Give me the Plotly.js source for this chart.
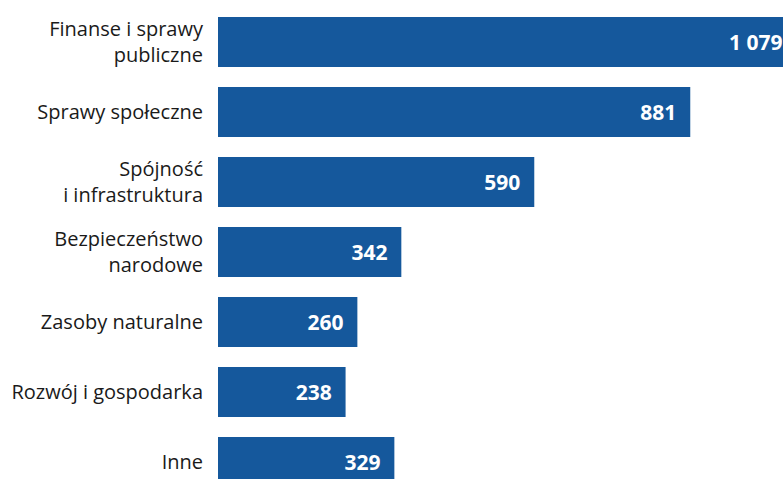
<!DOCTYPE html>
<html>
<head>
<meta charset="utf-8">
<script src="https://cdn.plot.ly/plotly-3.0.1.min.js"></script>
<style>html,body{margin:0;padding:0;background:#fff;}#chart{width:783px;height:479px;}</style>
</head>
<body>
<div id="chart"></div>
<script>
const categories = [
  "Finanse i sprawy<br>publiczne",
  "Sprawy społeczne",
  "Spójność<br>i infrastruktura",
  "Bezpieczeństwo<br>narodowe",
  "Zasoby naturalne",
  "Rozwój i gospodarka",
  "Inne"
];
const values = [1079, 881, 590, 342, 260, 238, 329];

function fmt(v) {
  return String(v).replace(/\B(?=(\d{3})+(?!\d))/g, "\u00a0");
}
const labels = values.map(v => fmt(v) + "\u00a0\u00a0");

const trace = {
  type: "bar",
  orientation: "h",
  y: categories,
  x: values,
  text: labels,
  textposition: "inside",
  insidetextanchor: "end",
  textangle: 0,
  textfont: {family: "Open Sans", size: 21, color: "#ffffff", weight: "bold"},
  marker: {color: "#15589c"},
  hoverinfo: "none",
  cliponaxis: true
};

const layout = {
  width: 783,
  height: 479,
  margin: {l: 218, r: 0, t: 0, b: 0, pad: 0},
  paper_bgcolor: "#ffffff",
  plot_bgcolor: "#ffffff",
  bargap: 0.286,
  showlegend: false,
  font: {family: "Open Sans", size: 20, color: "#1a1a1a"},
  xaxis: {
    range: [0, 1054],
    visible: false,
    showgrid: false,
    zeroline: false,
    fixedrange: true
  },
  yaxis: {
    type: "category",
    range: [6.243, -0.6],
    showgrid: false,
    zeroline: false,
    showline: false,
    ticks: "outside",
    ticklen: 10,
    tickcolor: "rgba(0,0,0,0)",
    tickfont: {family: "Open Sans", size: 20, color: "#1a1a1a"},
    fixedrange: true
  }
};

Plotly.newPlot("chart", [trace], layout, {staticPlot: true, displayModeBar: false});
</script>
</body>
</html>
